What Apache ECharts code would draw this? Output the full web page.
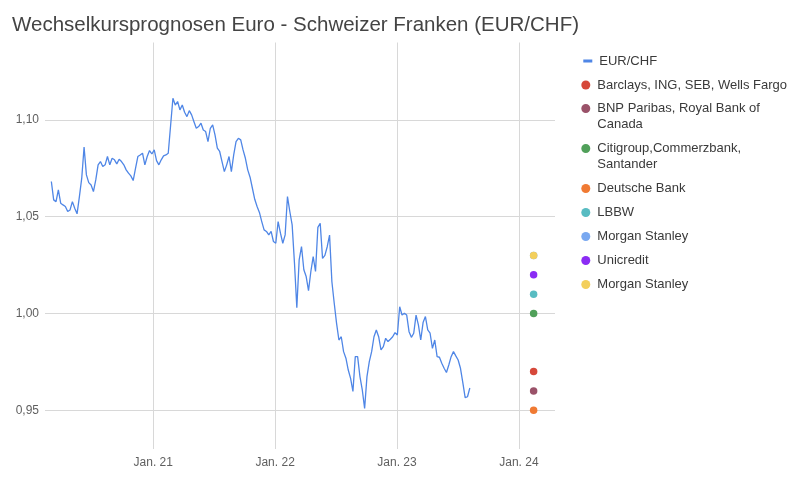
<!DOCTYPE html>
<html>
<head>
<meta charset="utf-8">
<script src="https://cdn.jsdelivr.net/npm/echarts@6/dist/echarts.min.js"></script>
<style>
html,body{margin:0;padding:0;background:#fff;}
#chart{width:800px;height:491px;}
</style>
</head>
<body>
<div id="chart"></div>
<script>
// ---- data ----
const chartTitle = 'Wechselkursprognosen Euro - Schweizer Franken (EUR/CHF)';
const lineName = 'EUR/CHF';
// weekly EUR/CHF readings starting Monday 2020-03-02
const seriesStart = '2020-03-02';
const seriesStepDays = 7;
const eurChf = [
  1.0682, 1.0587, 1.0578, 1.0639, 1.0570, 1.0561, 1.0553, 1.0527, 1.0535, 1.0578,
  1.0544, 1.0515, 1.0604, 1.0699, 1.0860, 1.0716, 1.0676, 1.0664, 1.0630, 1.0690,
  1.0768, 1.0785, 1.0759, 1.0768, 1.0811, 1.0768, 1.0802, 1.0794, 1.0773, 1.0797,
  1.0785, 1.0768, 1.0742, 1.0725, 1.0711, 1.0687, 1.0750, 1.0811, 1.0819, 1.0828,
  1.0768, 1.0811, 1.0842, 1.0824, 1.0845, 1.0790, 1.0768, 1.0794, 1.0814, 1.0819,
  1.0828, 1.0970, 1.1112, 1.1077, 1.1095, 1.1052, 1.1077, 1.1040, 1.1017, 1.1048,
  1.1026, 1.0991, 1.0957, 1.0966, 1.0983, 1.0948, 1.0940, 1.0888, 1.0957, 1.0974,
  1.0923, 1.0854, 1.0837, 1.0785, 1.0733, 1.0768, 1.0811, 1.0733, 1.0819, 1.0888,
  1.0905, 1.0897, 1.0845, 1.0802, 1.0742, 1.0704, 1.0647, 1.0590, 1.0553, 1.0522,
  1.0475, 1.0432, 1.0424, 1.0406, 1.0424, 1.0372, 1.0363, 1.0475, 1.0415, 1.0363,
  1.0406, 1.0604, 1.0527, 1.0458, 1.0260, 1.0030, 1.0277, 1.0346, 1.0226, 1.0191,
  1.0118, 1.0217, 1.0294, 1.0217, 1.0445, 1.0466, 1.0285, 1.0300, 1.0345, 1.0405,
  1.0164, 1.0053, 0.9949, 0.9863, 0.9880, 0.9803, 0.9769, 0.9708, 0.9665, 0.9597,
  0.9777, 0.9777, 0.9674, 0.9605, 0.9510, 0.9674, 0.9751, 0.9803, 0.9880, 0.9915,
  0.9880, 0.9812, 0.9829, 0.9872, 0.9855, 0.9867, 0.9880, 0.9901, 0.9889, 1.0035,
  0.9992, 1.0001, 0.9992, 0.9906, 0.9877, 0.9898, 0.9992, 0.9941, 0.9863, 0.9953,
  0.9984, 0.9915, 0.9898, 0.9820, 0.9863, 0.9777, 0.9774, 0.9743, 0.9717, 0.9695,
  0.9734, 0.9777, 0.9803, 0.9781, 0.9760, 0.9717, 0.9643, 0.9565, 0.9570, 0.9615
];
const forecastDate = '2024-02-14';
const forecastNames = [
  'Barclays, ING, SEB, Wells Fargo',
  'BNP Paribas, Royal Bank of Canada',
  'Citigroup,Commerzbank, Santander',
  'Deutsche Bank',
  'LBBW',
  'Morgan Stanley',
  'Unicredit',
  'Morgan Stanley '
];
const forecastValues = [0.97, 0.96, 1.00, 0.95, 1.01, 1.03, 1.02, 1.03];
const xTickDates = ['2021-01-01', '2022-01-01', '2023-01-01', '2024-01-01'];
const xRange = ['2020-02-12', '2024-04-18'];
const yTicks = [0.95, 1.00, 1.05, 1.10];
const yRange = [0.93, 1.14];

// ---- styling ----
const lineColor = '#4f86e6';
const forecastColors = ['#d6483a', '#9a5269', '#51a05a', '#f07a33', '#58bcc2', '#79a8f0', '#8b2cf4', '#f3cf5c'];
const legendDisplay = {
  'BNP Paribas, Royal Bank of Canada': 'BNP Paribas, Royal Bank of\nCanada',
  'Citigroup,Commerzbank, Santander': 'Citigroup,Commerzbank,\nSantander'
};
// circle aligned with the first of two text lines
const topCircleIcon = 'path://M0,4.5a4.5,4.5 0 1,0 9,0a4.5,4.5 0 1,0 -9,0z M4.5,24.99h0.01v0.01h-0.01z';

function utc(s) {
  const p = s.split('-').map(Number);
  return Date.UTC(p[0], p[1] - 1, p[2]);
}
const startMs = utc(seriesStart);
const dayMs = 86400000;
const lineData = eurChf.map((v, i) => [startMs + i * seriesStepDays * dayMs, v]);

const series = [{
  name: lineName,
  type: 'line',
  data: lineData,
  showSymbol: false,
  symbol: 'none',
  lineStyle: { color: lineColor, width: 1.3 },
  itemStyle: { color: lineColor },
  z: 2
}];
forecastNames.forEach((n, i) => {
  series.push({
    name: n,
    type: 'scatter',
    data: [[utc(forecastDate), forecastValues[i]]],
    symbol: 'circle',
    symbolSize: 7.5,
    itemStyle: { color: forecastColors[i], opacity: 1 },
    z: 3
  });
});

const legendText = { fontFamily: 'Liberation Sans, Arial, sans-serif', fontSize: 13, lineHeight: 16, color: '#3a3a3a' };
function mkLegend(names, top, extra) {
  return Object.assign({
    orient: 'vertical',
    left: 581.3,
    top: top,
    padding: 0,
    itemGap: 8,
    itemWidth: 13,
    itemHeight: 9,
    icon: 'circle',
    selectedMode: false,
    data: names,
    formatter: (n) => legendDisplay[n] || n,
    textStyle: Object.assign({}, legendText)
  }, extra || {});
}

const option = {
  animation: false,
  backgroundColor: '#ffffff',
  title: {
    text: chartTitle,
    left: 12,
    top: 15,
    padding: 0,
    textStyle: { fontFamily: 'Liberation Sans, Arial, sans-serif', fontSize: 20.5, fontWeight: 'normal', color: '#444444' }
  },
  legend: [
    mkLegend([{ name: lineName, icon: 'path://M0,0H9V3H0Z M10.98,0H11V3H10.98Z', itemStyle: { color: lineColor } }], 53, { left: 583.3, itemWidth: 11, itemHeight: 3 }),
    mkLegend([forecastNames[0]], 77),
    mkLegend([forecastNames[1], forecastNames[2]], 100.5, { itemHeight: 25, icon: topCircleIcon }),
    mkLegend(forecastNames.slice(3), 180.5)
  ],
  grid: { left: 45, right: 245, top: 42.5, bottom: 42, outerBoundsMode: 'none' },
  xAxis: {
    type: 'value',
    min: utc(xRange[0]),
    max: utc(xRange[1]),
    axisLine: { show: false },
    axisTick: { show: false, customValues: xTickDates.map(utc) },
    axisLabel: {
      customValues: xTickDates.map(utc),
      margin: 8,
      fontFamily: 'Liberation Sans, Arial, sans-serif',
      fontSize: 12,
      color: '#5f5f5f',
      formatter: (v) => 'Jan. ' + String(new Date(v).getUTCFullYear() % 100).padStart(2, '0')
    },
    splitLine: { show: true, lineStyle: { color: '#d8d8d8', width: 1 } }
  },
  yAxis: {
    type: 'value',
    min: yRange[0],
    max: yRange[1],
    axisLine: { show: false },
    axisTick: { show: false, customValues: yTicks },
    axisLabel: {
      customValues: yTicks,
      margin: 6,
      fontFamily: 'Liberation Sans, Arial, sans-serif',
      fontSize: 12,
      color: '#5f5f5f',
      formatter: (v) => v.toFixed(2).replace('.', ',')
    },
    splitLine: { show: true, lineStyle: { color: '#d8d8d8', width: 1 } }
  },
  series: series
};

const chart = echarts.init(document.getElementById('chart'), null, { renderer: 'canvas' });
chart.setOption(option);
</script>
</body>
</html>
